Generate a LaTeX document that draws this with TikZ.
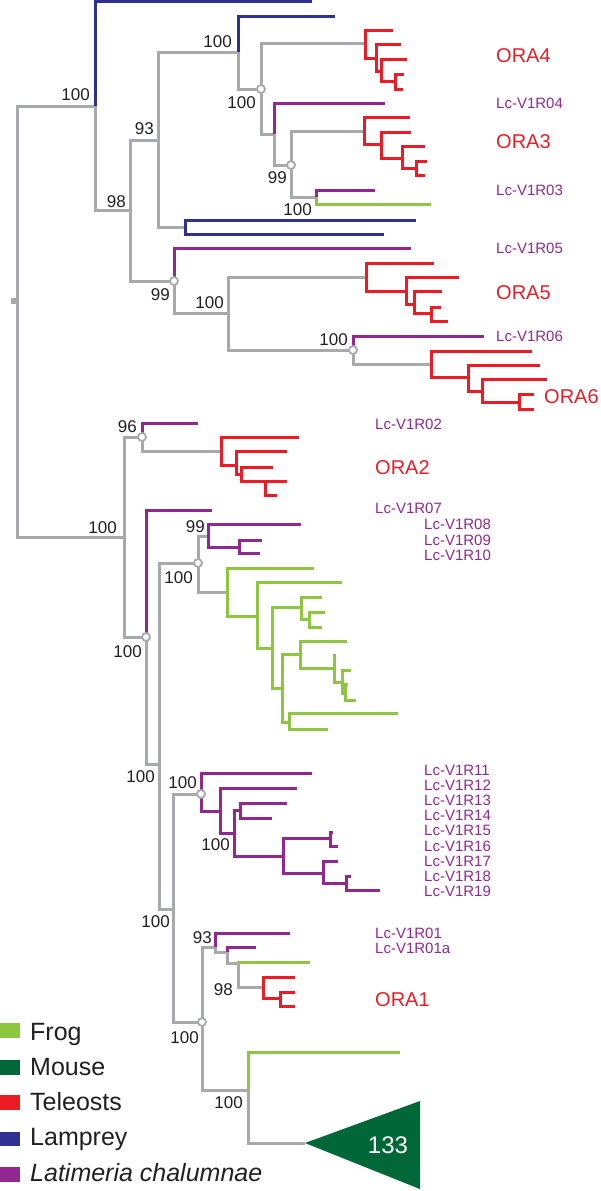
\documentclass[tikz,border=0pt]{standalone}
\usepackage{fontspec}
\setmainfont{Liberation Sans}
\definecolor{tgrey}{RGB}{167,169,172}
\definecolor{tblue}{RGB}{46,49,146}
\definecolor{tred}{RGB}{237,28,36}
\definecolor{tpurple}{RGB}{146,39,143}
\definecolor{tfrog}{RGB}{141,198,63}
\definecolor{tmouse}{RGB}{0,104,56}
\definecolor{ttext}{RGB}{35,31,32}
\begin{document}
\begin{tikzpicture}[x=1pt,y=-1pt,
  br/.style={line width=3pt, line join=miter},
  gl/.style={br,draw=tgrey}, bl/.style={br,draw=tblue}, rl/.style={br,draw=tred},
  pl/.style={br,draw=tpurple}, fl/.style={br,draw=tfrog},
  bs/.style={font=\fontsize{17}{17}\selectfont, text=ttext, anchor=base east, inner sep=0pt},
  lc/.style={font=\fontsize{15}{15}\selectfont, text=tpurple, anchor=base west, inner sep=0pt},
  ora/.style={font=\fontsize{20}{20}\selectfont, text=tred, anchor=base west, inner sep=0pt},
  lg/.style={font=\fontsize{25}{25}\selectfont, text=ttext, anchor=base west, inner sep=0pt},
  circ/.style={circle, draw=tgrey, fill=white, line width=1.8pt, minimum size=8pt, inner sep=0pt}]
\useasboundingbox (0,0) rectangle (600,1191);

% ---------------- grey backbone
\draw[gl] (95,106) -- (17,106) -- (17,537) -- (124,537);
\fill[tgrey] (11,298) rectangle (17,304);
\draw[gl] (95,106) -- (95,210) -- (130,210);
\draw[gl] (158,140) -- (130,140) -- (130,281) -- (174,281);
\draw[gl] (238,52) -- (158,52) -- (158,227) -- (185,227);
\draw[gl] (238,52) -- (238,89) -- (261,89);
\draw[gl] (365,43) -- (261,43) -- (261,134) -- (274,134);
\draw[gl] (274,134) -- (274,165) -- (291,165);
\draw[gl] (364,131) -- (291,131) -- (291,197) -- (316,197);
\draw[gl] (174,281) -- (174,313) -- (228,313);
\draw[gl] (366,277) -- (228,277) -- (228,350) -- (353,350);
\draw[gl] (353,350) -- (353,364) -- (431,364);
\draw[gl] (142,437) -- (124,437) -- (124,637) -- (146,637);
\draw[gl] (142,437) -- (142,451) -- (221,451);
\draw[gl] (146,637) -- (146,764) -- (159,764);
\draw[gl] (198,563) -- (159,563) -- (159,909) -- (173,909);
\draw[gl] (208,536) -- (198,536) -- (198,592) -- (227,592);
\draw[gl] (201,794) -- (173,794) -- (173,1022) -- (202,1022);
\draw[gl] (215,947) -- (202,947) -- (202,1090) -- (248,1090);
\draw[gl] (215,947) -- (215,952) -- (227,952);
\draw[gl] (227,952) -- (227,963) -- (238,963);
\draw[gl] (238,963) -- (238,987) -- (263,987);
\draw[gl] (248,1090) -- (248,1143) -- (305,1143);

% ---------------- lamprey
\draw[bl] (312,1.5) -- (95,1.5) -- (95,106);
\draw[bl] (416,220) -- (185,220) -- (185,234) -- (384,234);
\draw[bl] (335,16) -- (238,16) -- (238,52);

% ---------------- teleosts
% ORA4
\draw[rl] (393,30) -- (365,30) -- (365,58) -- (376,58);
\draw[rl] (401,44) -- (376,44) -- (376,71) -- (381,71);
\draw[rl] (407,59) -- (381,59) -- (381,81) -- (395,81);
\draw[rl] (404,74) -- (395,74) -- (395,89) -- (403,89);
% ORA3
\draw[rl] (410,117) -- (364,117) -- (364,144) -- (381,144);
\draw[rl] (411,132) -- (381,132) -- (381,158) -- (402,158);
\draw[rl] (425,146) -- (402,146) -- (402,168) -- (416,168);
\draw[rl] (427,161) -- (416,161) -- (416,175) -- (425,175);
% ORA5
\draw[rl] (434,263) -- (366,263) -- (366,291) -- (406,291);
\draw[rl] (459,277) -- (406,277) -- (406,304) -- (414,304);
\draw[rl] (442,291) -- (414,291) -- (414,313) -- (431,313);
\draw[rl] (441,307) -- (431,307) -- (431,321) -- (448,321);
% ORA6
\draw[rl] (532,351) -- (431,351) -- (431,377) -- (468,377);
\draw[rl] (540,365) -- (468,365) -- (468,391) -- (482,391);
\draw[rl] (547,379) -- (482,379) -- (482,402) -- (519,402);
\draw[rl] (534,394) -- (519,394) -- (519,409) -- (534,409);
% ORA2
\draw[rl] (299,437) -- (221,437) -- (221,465) -- (236,465);
\draw[rl] (287,451) -- (236,451) -- (236,474) -- (241,474);
\draw[rl] (273,467) -- (241,467) -- (241,481) -- (287,481);
\draw[rl] (265,481) -- (265,495) -- (277,495);
% ORA1
\draw[rl] (295,977) -- (263,977) -- (263,998) -- (280,998);
\draw[rl] (295,992) -- (280,992) -- (280,1006) -- (295,1006);

% ---------------- Latimeria
\draw[pl] (385,103) -- (274,103) -- (274,134);
\draw[pl] (375,190) -- (316,190) -- (316,197);
\draw[pl] (411,248) -- (174,248) -- (174,281);
\draw[pl] (484,336) -- (353,336) -- (353,350);
\draw[pl] (198,423) -- (142,423) -- (142,437);
\draw[pl] (212,510) -- (146,510) -- (146,637);
\draw[pl] (301,524) -- (208,524) -- (208,547) -- (239,547);
\draw[pl] (262,540) -- (239,540) -- (239,553) -- (260,553);
\draw[pl] (312,773) -- (201,773) -- (201,811) -- (220,811);
\draw[pl] (297,788) -- (220,788) -- (220,833) -- (234,833);
\draw[pl] (240,810) -- (234,810) -- (234,856) -- (283,856);
\draw[pl] (287,803) -- (240,803) -- (240,818) -- (272,818);
\draw[pl] (330,838) -- (283,838) -- (283,873) -- (323,873);
\draw[pl] (333,832) -- (330,832) -- (330,846) -- (338,846);
\draw[pl] (338,861) -- (323,861) -- (323,883) -- (346,883);
\draw[pl] (351,876) -- (346,876) -- (346,890) -- (380,890);
\draw[pl] (290,933) -- (215,933) -- (215,947);
\draw[pl] (256,947) -- (227,947) -- (227,952);

% ---------------- frog
\draw[fl] (431,204) -- (316,204) -- (316,197);
\draw[fl] (314,568) -- (227,568) -- (227,616) -- (257,616);
\draw[fl] (342,582) -- (257,582) -- (257,648) -- (272,648);
\draw[fl] (301,607) -- (272,607) -- (272,688) -- (282,688);
\draw[fl] (322,597) -- (301,597) -- (301,619) -- (309,619);
\draw[fl] (325,612) -- (309,612) -- (309,627) -- (322,627);
\draw[fl] (300,654) -- (282,654) -- (282,722) -- (289,722);
\draw[fl] (347,641) -- (300,641) -- (300,668) -- (334,668);
\draw[fl] (336,655) -- (334,655) -- (334,682) -- (342,682);
\draw[fl] (351,670) -- (342,670) -- (342,693) -- (345,693);
\draw[fl] (348,684) -- (345,684) -- (345,700) -- (356,700);
\draw[fl] (398,713) -- (289,713) -- (289,729) -- (328,729);
\draw[fl] (310,962) -- (238,962) -- (238,963);
\draw[fl] (400,1052) -- (248,1052) -- (248,1090);

% ---------------- mouse collapsed clade
\fill[tmouse] (305,1143) -- (420,1101) -- (420,1189) -- cycle;
\node[font=\fontsize{24}{24}\selectfont, text=white, anchor=base, inner sep=0pt] (n133) at (388,1153) {133};

% ---------------- node circles
\foreach \p [count=\i] in {(261,89),(291,165),(174,281),(353,350),(142,437),(146,637),(198,563),(201,794),(202,1022)}
  \node[circ] (c\i) at \p {};

% ---------------- bootstrap values
\node[bs] (b1) at (90,100) {100};
\node[bs] (b2) at (126,207) {98};
\node[bs] (b3) at (154,134) {93};
\node[bs] (b4) at (232,47) {100};
\node[bs] (b5) at (256,108) {100};
\node[bs] (b6) at (287,183) {99};
\node[bs] (b7) at (312,215) {100};
\node[bs] (b8) at (170,300) {99};
\node[bs] (b9) at (224,308) {100};
\node[bs] (b10) at (348,345) {100};
\node[bs] (b11) at (137,432) {96};
\node[bs] (b12) at (117,533) {100};
\node[bs] (b13) at (205,532) {99};
\node[bs] (b14) at (193,583) {100};
\node[bs] (b15) at (142,657) {100};
\node[bs] (b16) at (155,782) {100};
\node[bs] (b17) at (197,788) {100};
\node[bs] (b18) at (230,850) {100};
\node[bs] (b19) at (170,927) {100};
\node[bs] (b20) at (212,943) {93};
\node[bs] (b21) at (233,995) {98};
\node[bs] (b22) at (199,1043) {100};
\node[bs] (b23) at (243,1108) {100};

% ---------------- leaf labels
\node[ora] (ora4) at (496,62) {ORA4};
\node[lc] (v04) at (496,108) {Lc-V1R04};
\node[ora] (ora3) at (496,148) {ORA3};
\node[lc] (v03) at (496,195) {Lc-V1R03};
\node[lc] (v05) at (496,253) {Lc-V1R05};
\node[ora] (ora5) at (496,299) {ORA5};
\node[lc] (v06) at (496,341) {Lc-V1R06};
\node[ora] (ora6) at (544,403) {ORA6};
\node[lc] (v02) at (375,429) {Lc-V1R02};
\node[ora] (ora2) at (375,474) {ORA2};
\node[lc] (v07) at (375,513) {Lc-V1R07};
\node[lc] (v08) at (424,529) {Lc-V1R08};
\node[lc] (v09) at (424,545) {Lc-V1R09};
\node[lc] (v10) at (424,560) {Lc-V1R10};
\foreach \n/\yy in {11/775,12/790,13/805,14/820,15/835.5,16/851,17/866,18/881,19/896}
  \node[lc] (v\n) at (424,\yy) {Lc-V1R\n};
\node[lc] (v01) at (375,938) {Lc-V1R01};
\node[lc] (v01a) at (375,953) {Lc-V1R01a};
\node[ora] (ora1) at (375,1006) {ORA1};

% ---------------- legend
\fill[tfrog] (0,1023) rectangle (20,1038);
\fill[tmouse] (0,1060) rectangle (20,1075);
\fill[tred] (0,1095) rectangle (20,1110);
\fill[tblue] (0,1132) rectangle (20,1146);
\fill[tpurple] (0,1167) rectangle (20,1182);
\node[lg] (lfrog) at (30,1040) {Frog};
\node[lg] (lmouse) at (30,1075) {Mouse};
\node[lg] (ltel) at (30,1110.5) {Teleosts};
\node[lg] (llam) at (30,1145.5) {Lamprey};
\node[lg] (llat) at (30,1181.5) {\itshape Latimeria chalumnae};
\end{tikzpicture}
\end{document}
